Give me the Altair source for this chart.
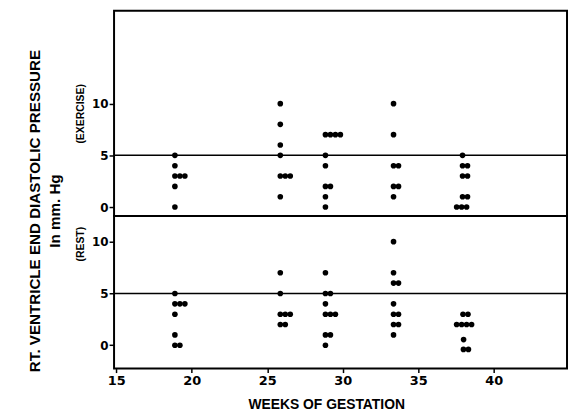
import altair as alt
import pandas as pd

# ---- data ----
# each row: start week of a row of dots, pressure value, number of side-by-side dots
ex_week = [18.88, 18.88, 18.88, 18.88, 18.88,
           25.86, 25.86, 25.86, 25.86, 25.86, 25.86,
           28.85, 28.85, 28.85, 28.85, 28.85, 28.85,
           33.36, 33.36, 33.36, 33.36, 33.36,
           37.93, 37.93, 37.93, 37.93, 37.54]
ex_value = [5, 4, 3, 2, 0,
            10, 8, 6, 5, 3, 1,
            7, 5, 4, 2, 1, 0,
            10, 7, 4, 2, 1,
            5, 4, 3, 1, 0]
ex_count = [1, 1, 3, 1, 1,
            1, 1, 1, 1, 3, 1,
            4, 1, 1, 2, 1, 1,
            1, 1, 2, 2, 1,
            1, 2, 2, 2, 3]

rest_week = [18.88, 18.88, 18.88, 18.88, 18.88,
             25.86, 25.86, 25.86, 25.86,
             28.85, 28.85, 28.85, 28.85, 28.85, 28.85,
             33.36, 33.36, 33.36, 33.36, 33.36, 33.36, 33.36,
             37.96, 37.54, 38.0, 37.99]
rest_value = [5, 4, 3, 1, 0,
              7, 5, 3, 2,
              7, 5, 4, 3, 1, 0,
              10, 7, 6, 4, 3, 2, 1,
              3, 2, 0.55, -0.4]
rest_count = [1, 3, 1, 1, 2,
              1, 1, 3, 2,
              1, 2, 1, 3, 2, 1,
              1, 1, 2, 1, 2, 2, 1,
              2, 4, 1, 2]

ref_level = [5]
x_ticks = [15, 20, 25, 30, 35, 40]
y_ticks = [0, 5, 10]

STEP = 0.33  # horizontal spacing of tied dots, in weeks


def expand(weeks, values, counts):
    rows = []
    for w, v, c in zip(weeks, values, counts):
        for k in range(c):
            rows.append({"week": w + k * STEP, "value": v})
    return pd.DataFrame(rows)


ex_df = expand(ex_week, ex_value, ex_count)
rest_df = expand(rest_week, rest_value, rest_count)
ref_df = pd.DataFrame({"level": ref_level})

xscale = alt.Scale(domain=[14.85, 44.85], nice=False, zero=False)

yaxis_common = dict(values=y_ticks, grid=False, domain=False, tickSize=5,
                    tickColor="black", tickWidth=1.5,
                    labelFont="DejaVu Sans", labelFontWeight="bold",
                    labelFontSize=12, labelColor="black", labelPadding=1,
                    titleFont="Liberation Sans", titleFontSize=10.5,
                    titleFontWeight="bold", titleColor="black", titlePadding=6)


def panel(df, domain, title, height, show_x, title_y=None):
    extra = {}
    if title_y is not None:
        extra["titleY"] = title_y
        extra["titleAlign"] = "center"
    if show_x:
        xaxis = alt.Axis(values=x_ticks, grid=False, domain=False, tickSize=4,
                         tickColor="black", tickWidth=1.5,
                         labelFont="DejaVu Sans", labelFontWeight="bold",
                         labelFontSize=13, labelColor="black", labelPadding=2,
                         title="WEEKS OF GESTATION", titleFont="Liberation Sans",
                         titleFontSize=14, titleFontWeight="bold",
                         titleColor="black", titleX=214, titleY=36,
                         titleAlign="center", titleBaseline="middle")
    else:
        xaxis = None
    dots = alt.Chart(df).mark_circle(size=32, color="black", opacity=1).encode(
        x=alt.X("week:Q", scale=xscale, axis=xaxis),
        y=alt.Y("value:Q",
                scale=alt.Scale(domain=domain, nice=False, zero=False),
                axis=alt.Axis(title=title, **yaxis_common, **extra)),
    )
    rule = alt.Chart(ref_df).mark_rule(color="black", strokeWidth=1.5).encode(
        y=alt.Y("level:Q")
    )
    return alt.layer(rule, dots).properties(width=457, height=height)


ex = panel(ex_df, [-0.86, 18.98], "(EXERCISE)", 207, False)
rest = panel(rest_df, [-2.25, 12.48], "(REST)", 154, True, title_y=28)

chart = alt.vconcat(ex, rest, spacing=0, bounds="flush").properties(
    title=alt.TitleParams(
        text=["RT. VENTRICLE END DIASTOLIC PRESSURE", "In mm. Hg"],
        orient="left", anchor="middle", font="Liberation Sans", fontSize=15.3,
        fontWeight="bold", lineHeight=20, offset=12, color="black"),
    padding={"left": 20, "top": 0, "right": 0, "bottom": 0},
    background="white",
).configure_view(stroke="black", strokeWidth=2)

chart.save("out.html", embed_options={"renderer": "svg", "actions": False})
